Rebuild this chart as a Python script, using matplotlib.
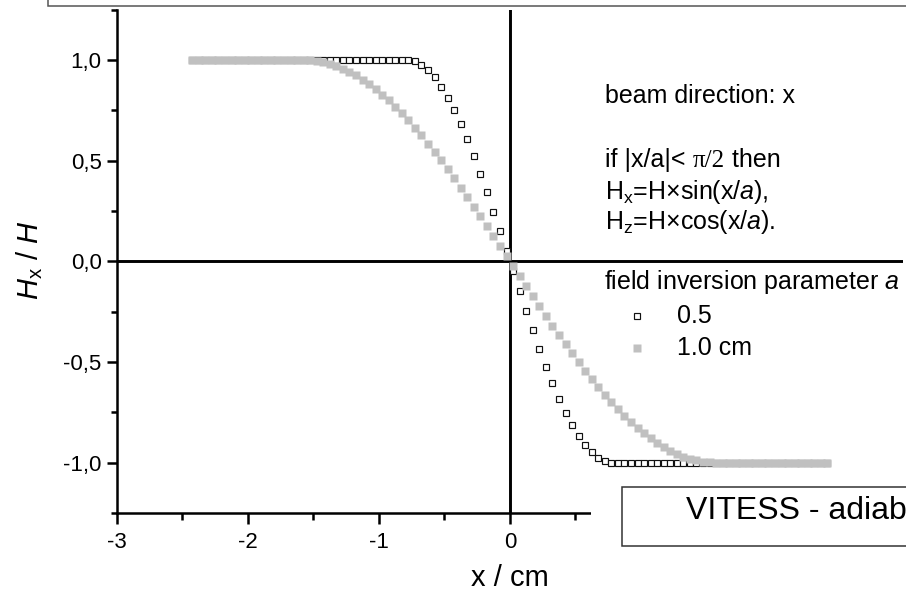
import matplotlib
matplotlib.use("Agg")
import matplotlib.pyplot as plt
from matplotlib.patches import Rectangle
from matplotlib.lines import Line2D
from matplotlib.ticker import FuncFormatter, MultipleLocator

plt.rcParams['font.family'] = ['Liberation Sans', 'DejaVu Sans']
plt.rcParams['mathtext.fontset'] = 'custom'
plt.rcParams['mathtext.rm'] = 'Liberation Sans'
plt.rcParams['mathtext.it'] = 'Liberation Sans:italic'

# ---------------- data ----------------
x_neg = [-2.425, -2.375, -2.325, -2.275, -2.225, -2.175, -2.125, -2.075, -2.025,
         -1.975, -1.925, -1.875, -1.825, -1.775, -1.725, -1.675, -1.625, -1.575,
         -1.525, -1.475, -1.425, -1.375, -1.325, -1.275, -1.225, -1.175, -1.125,
         -1.075, -1.025, -0.975, -0.925, -0.875, -0.825, -0.775, -0.725, -0.675,
         -0.625, -0.575, -0.525, -0.475, -0.425, -0.375, -0.325, -0.275, -0.225,
         -0.175, -0.125, -0.075, -0.025]
x_pos = [0.025, 0.075, 0.125, 0.175, 0.225, 0.275, 0.325, 0.375, 0.425, 0.475,
         0.525, 0.575, 0.625, 0.675, 0.725, 0.775, 0.825, 0.875, 0.925, 0.975,
         1.025, 1.075, 1.125, 1.175, 1.225, 1.275, 1.325, 1.375, 1.425, 1.475,
         1.525, 1.575, 1.625, 1.675, 1.725, 1.775, 1.825, 1.875, 1.925, 1.975,
         2.025, 2.075, 2.125, 2.175, 2.225, 2.275, 2.325, 2.375, 2.425]
x_cm = x_neg + x_pos

# a = 1.0 cm (grey filled squares)
hx_a10 = [1.0, 1.0, 1.0, 1.0, 1.0, 1.0, 1.0, 1.0, 1.0, 1.0, 1.0, 1.0, 1.0, 1.0,
          1.0, 1.0, 1.0, 1.0,
          0.999, 0.995, 0.989, 0.981, 0.970, 0.957, 0.941, 0.923, 0.902, 0.880,
          0.855, 0.828, 0.799, 0.768, 0.735, 0.700, 0.663, 0.625, 0.585, 0.544,
          0.501, 0.457, 0.412, 0.366, 0.319, 0.272, 0.223, 0.174, 0.125, 0.075,
          0.025,
          -0.025, -0.075, -0.125, -0.174, -0.223, -0.272, -0.319, -0.366, -0.412,
          -0.457, -0.501, -0.544, -0.585, -0.625, -0.663, -0.700, -0.735, -0.768,
          -0.799, -0.828, -0.855, -0.880, -0.902, -0.923, -0.941, -0.957, -0.970,
          -0.981, -0.989, -0.995, -0.999,
          -1.0, -1.0, -1.0, -1.0, -1.0, -1.0, -1.0, -1.0, -1.0, -1.0, -1.0, -1.0,
          -1.0, -1.0, -1.0, -1.0, -1.0, -1.0]

# a = 0.5 cm (open squares)
hx_a05 = [1.0, 1.0, 1.0, 1.0, 1.0, 1.0, 1.0, 1.0, 1.0, 1.0, 1.0, 1.0, 1.0, 1.0,
          1.0, 1.0, 1.0, 1.0, 1.0, 1.0, 1.0, 1.0, 1.0, 1.0, 1.0, 1.0, 1.0, 1.0,
          1.0, 1.0, 1.0, 1.0, 1.0,
          1.000, 0.993, 0.976, 0.949, 0.913, 0.867, 0.813, 0.751, 0.682, 0.605,
          0.523, 0.435, 0.343, 0.247, 0.149, 0.050,
          -0.050, -0.149, -0.247, -0.343, -0.435, -0.523, -0.605, -0.682, -0.751,
          -0.813, -0.867, -0.913, -0.949, -0.976, -0.993, -1.000,
          -1.0, -1.0, -1.0, -1.0, -1.0, -1.0, -1.0, -1.0, -1.0, -1.0, -1.0, -1.0,
          -1.0, -1.0, -1.0, -1.0, -1.0, -1.0, -1.0, -1.0, -1.0, -1.0, -1.0, -1.0,
          -1.0, -1.0, -1.0, -1.0, -1.0, -1.0, -1.0, -1.0, -1.0]

x_major = [-3, -2, -1, 0]
y_major = [-1.0, -0.5, 0.0, 0.5, 1.0]
legend_labels = ["0.5", "1.0 cm"]

# ---------------- figure ----------------
W, H = 906, 595
fig = plt.figure(figsize=(W / 100, H / 100), dpi=100)


def fx(px):
    return px / W


def fy(py):
    return 1 - py / H


ax = fig.add_axes([fx(117), fy(513), fx(902.7) - fx(117), fy(9.6) - fy(513)])
ax.set_xlim(-3, 3)
ax.set_ylim(-1.25, 1.25)

ax.plot(x_cm, hx_a05, ls='none', marker='s', ms=4.9, mfc='white',
        mec='#111111', mew=0.85, zorder=3)
ax.plot(x_cm, hx_a10, ls='none', marker='s', ms=5.3, mfc='#c0c0c0',
        mec='none', zorder=4)

ax.axhline(0, color='black', lw=2.1, zorder=2)
ax.axvline(0, color='black', lw=2.1, zorder=2)

for s in ['top', 'right']:
    ax.spines[s].set_visible(False)
for s in ['left', 'bottom']:
    ax.spines[s].set_linewidth(1.8)

ax.set_xticks(x_major)
ax.set_xticks([-2.5, -1.5, -0.5, 0.5], minor=True)
ax.set_yticks(y_major)
ax.yaxis.set_minor_locator(MultipleLocator(0.25))
ax.xaxis.set_major_formatter(FuncFormatter(lambda v, p: f"{v:.0f}"))
ax.yaxis.set_major_formatter(FuncFormatter(lambda v, p: f"{v:.1f}".replace('.', ',')))
ax.tick_params(axis='x', which='major', length=8, width=1.8, labelsize=16, pad=6)
ax.tick_params(axis='x', which='minor', length=5, width=1.8)
ax.tick_params(axis='y', which='major', length=7, width=1.8, labelsize=16, pad=4)
ax.tick_params(axis='y', which='minor', length=4, width=1.8)

fig.text(fx(510), fy(578), "x / cm", fontsize=21, ha='center', va='center')
fig.text(fx(30), fy(260), r"$H_\mathrm{x}$ / $H$", fontsize=21, rotation=90,
         ha='center', va='center')

# annotation text block
fs = 18
TIMES = '\u00d7'
fig.text(fx(605), fy(96), "beam direction: x", fontsize=fs, va='center')
t1 = fig.text(fx(605), fy(160), "if |x/a|< ", fontsize=fs, va='center')
t2 = ax.annotate("\u03c0/2", xy=(1, 0), xycoords=t1, va='bottom', ha='left',
                 fontsize=fs, family='Liberation Serif')
ax.annotate(" then", xy=(1, 0), xycoords=t2, va='bottom', ha='left', fontsize=fs)
fig.text(fx(605), fy(192), r"H$_\mathrm{x}$=H" + TIMES + r"sin(x/$a$),",
         fontsize=fs, va='center')
fig.text(fx(605), fy(222), r"H$_\mathrm{z}$=H" + TIMES + r"cos(x/$a$).",
         fontsize=fs, va='center')
fig.text(fx(604), fy(282), r"field inversion parameter $a$", fontsize=fs, va='center')

# manual legend
fig.add_artist(Line2D([fx(637)], [fy(316)], ls='none', marker='s', ms=4.9,
                      mfc='white', mec='#111111', mew=0.85))
fig.add_artist(Line2D([fx(637)], [fy(348)], ls='none', marker='s', ms=5.3,
                      mfc='#c0c0c0', mec='none'))
fig.text(fx(677), fy(316), legend_labels[0], fontsize=fs, va='center')
fig.text(fx(677), fy(348), legend_labels[1], fontsize=fs, va='center')

# boxes
fig.add_artist(Rectangle((fx(591), fy(600)), fx(400), fy(480) - fy(600),
                         facecolor='white', edgecolor='none', zorder=5))
fig.add_artist(Rectangle((fx(622), fy(546)), fx(320), fy(487) - fy(546),
                         facecolor='white', edgecolor='#333333', lw=1.1, zorder=6))
fig.text(fx(686), fy(511), "VITESS - adiab", fontsize=23, va='center', zorder=7)
fig.add_artist(Rectangle((fx(47.7), fy(6)), fx(900), fy(-20) - fy(6),
                         facecolor='white', edgecolor='#555555', lw=1.1, zorder=6))

fig.savefig("out.png", dpi=100)
